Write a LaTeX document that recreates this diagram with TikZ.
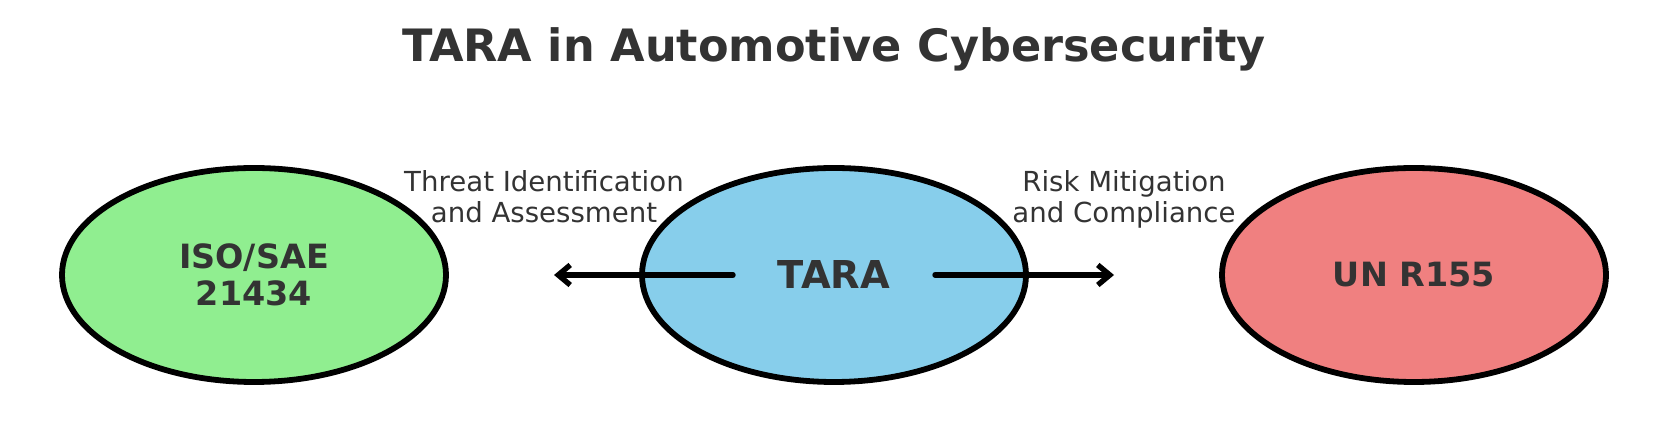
\documentclass[tikz,border=0pt]{standalone}
\usepackage{fontspec}
\setmainfont{DejaVu Sans}
\usepackage{xcolor}
\usetikzlibrary{arrows.meta,positioning,shapes.geometric}

\definecolor{inkgray}{RGB}{51,51,51}
\definecolor{isogreen}{RGB}{144,238,144}
\definecolor{tarablue}{RGB}{135,206,235}
\definecolor{uncoral}{RGB}{240,128,128}

\begin{document}
\begin{tikzpicture}[x=0.5pt,y=-0.5pt,>={Straight Barb[length=6pt,width=10pt]},
  bubble/.style={draw=black,line width=2.9pt,ellipse,inner sep=0pt,outer sep=0pt,
    minimum width=192pt,minimum height=107pt,align=center,text=inkgray,
    font=\bfseries\fontsize{16.7pt}{18.8pt}\selectfont},
  flow/.style={->,line width=2.7pt,line cap=round,shorten <=50.5pt,shorten >=150pt},
  lbl/.style={align=center,text=inkgray,inner sep=0pt,
    font=\fontsize{13.8pt}{15.6pt}\selectfont}]
  \useasboundingbox (0,0) rectangle (1660,442);
  \node[anchor=base,text=inkgray,font=\bfseries\fontsize{22.3pt}{27pt}\selectfont]
    (title) at (834,62) {TARA in Automotive Cybersecurity};
  \node[bubble,fill=tarablue,font=\bfseries\fontsize{19.2pt}{23pt}\selectfont]
    (tara) at (834,275) {TARA};
  \node[bubble,fill=isogreen,left=98pt of tara] (iso) {ISO/SAE\\21434};
  \node[bubble,fill=uncoral,right=98pt of tara] (unr) {UN R155};
  % connectors, labels sit midway between the ellipse centres
  \draw[flow] (tara.center) -- node[lbl,above=22pt] (threat)
    {Threat Identification\\and Assessment\vphantom{p}} (iso.center);
  \draw[flow] (tara.center) -- node[lbl,above=22pt] (risk)
    {Risk Mitigation\\and Compliance} (unr.center);
\end{tikzpicture}
\end{document}
